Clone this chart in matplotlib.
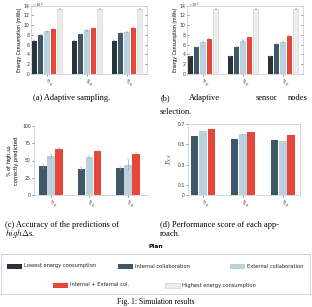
import numpy as np
import matplotlib
matplotlib.use("Agg")
import matplotlib.pyplot as plt
from matplotlib.patches import Rectangle

W, H = 312, 307

# 数据
groups = [r'$\tau_{70}$', r'$\tau_{60}$', r'$\tau_{50}$']
plans = ['Lowest energy consumption', 'Internal collaboration', 'External collaboration',
         'Internal + External col.', 'Highest energy consumption']
colors = ['#27343e', '#3e5868', '#b9d2de', '#e5473a', '#ececec']

# (a) 自适应采样, 单位 x10^6 mWs
energy_a = [[6.8, 8.0, 8.7, 9.2, 13.3],
            [6.8, 8.1, 8.9, 9.3, 13.3],
            [6.8, 8.4, 8.6, 9.5, 13.3]]
# (b) 自适应传感器节点选择
energy_b = [[3.6, 5.5, 6.5, 7.2, 13.3],
            [3.6, 5.6, 6.8, 7.5, 13.3],
            [3.6, 6.1, 6.5, 7.8, 13.3]]
# (c) 预测准确率 (内部, 外部, 内部+外部)
acc_c = [[42, 57, 67],
         [38, 55, 64],
         [39, 44, 60]]
acc_err = [[3, 3, 1],
           [2, 2, 1],
           [3, 8, 1]]
# (d) 性能得分
score_d = [[0.58, 0.63, 0.65],
           [0.55, 0.60, 0.62],
           [0.54, 0.53, 0.59]]

plt.rcParams['font.family'] = ['DejaVu Sans']
plt.rcParams['mathtext.fontset'] = 'cm'
fs_tick = 3.3
fs_cap = 6.0
serif = ['Liberation Serif', 'DejaVu Serif']


def px_axes(fig, left, right, top, bottom):
    return fig.add_axes([left / W, 1 - bottom / H, (right - left) / W, (bottom - top) / H])


def fig_text(fig, x, y, s, **kw):
    fig.text(x / W, 1 - y / H, s, **kw)


def style(ax, box=True):
    for side, sp in ax.spines.items():
        sp.set_color('#c8c8c8')
        sp.set_linewidth(0.5)
    if not box:
        ax.spines['top'].set_visible(False)
        ax.spines['right'].set_visible(False)
    ax.tick_params(labelsize=fs_tick, length=1.2, width=0.4, pad=1, colors='#333333')
    ax.set_xticks(range(len(groups)))
    ax.set_xticklabels(groups, rotation=-40, ha='left', rotation_mode='anchor', fontsize=4.6)


def energy_panel(ax, data):
    data = np.array(data)
    n = data.shape[1]
    w, step = 0.13, 0.16
    x = np.arange(len(groups))
    for i in range(n):
        pos = x + (i - (n - 1) / 2) * step
        ax.bar(pos, data[:, i], w, color=colors[i],
               edgecolor='#d0d0d0' if i == 4 else 'none', linewidth=0.4,
               yerr=0.05, error_kw=dict(elinewidth=0.3, capsize=0.6, capthick=0.3, ecolor='#888888'))
    ax.set_ylim(0, 14)
    ax.set_yticks(range(0, 15, 2))
    ax.set_xlim(-0.4, 2.5)
    style(ax)
    ax.tick_params(axis='y', right=True, direction='in')
    ax.set_ylabel('Energy Consumption (mWs)', fontsize=fs_tick, labelpad=1.5)
    ax.text(0.01, 1.0, r'$\times10^6$', transform=ax.transAxes, fontsize=fs_tick,
            ha='left', va='center', color='#333333')


def three_panel(ax, data, err=None):
    data = np.array(data)
    w, step = 0.19, 0.21
    x = np.arange(len(groups))
    for i in range(3):
        pos = x + (i - 1) * step
        ax.bar(pos, data[:, i], w, color=colors[i + 1],
               yerr=None if err is None else np.array(err)[:, i],
               error_kw=dict(elinewidth=0.4, capsize=0.8, capthick=0.3, ecolor='#999999'))


fig = plt.figure(figsize=(W / 100, H / 100), dpi=100)

ax_a = px_axes(fig, 31, 147, 5.5, 74)
energy_panel(ax_a, energy_a)
ax_b = px_axes(fig, 187, 303, 5.5, 74)
energy_panel(ax_b, energy_b)

ax_c = px_axes(fig, 34, 148, 126, 195)
three_panel(ax_c, acc_c, acc_err)
ax_c.set_ylim(0, 100)
ax_c.set_yticks([0, 25, 50, 75, 100])
ax_c.set_xlim(-0.44, 2.52)
style(ax_c, box=False)
ax_c.set_ylabel('% of high$\\Delta$s\ncorrectly predicted', fontsize=fs_tick + 0.4,
                labelpad=2, linespacing=1.0)

ax_d = px_axes(fig, 188, 300, 124, 195)
three_panel(ax_d, score_d)
ax_d.set_ylim(0, 0.7)
ax_d.set_yticks([0, 0.1, 0.3, 0.5, 0.7])
ax_d.set_yticklabels(['0', '0.1', '0.3', '0.5', '0.7'])
ax_d.set_xlim(-0.375, 2.43)
style(ax_d)
ax_d.set_ylabel(r'$P_{S,S}$', fontsize=fs_tick + 0.6, labelpad=2)

# 子图标题
fig_text(fig, 72, 98, '(a) Adaptive sampling.', family=serif, fontsize=fs_cap, ha='center', va='center')
for s, xx in [('(b)', 161), ('Adaptive', 189), ('sensor', 256), ('nodes', 288)]:
    fig_text(fig, xx, 98, s, family=serif, fontsize=fs_cap, ha='left', va='center')
fig_text(fig, 160, 112, 'selection.', family=serif, fontsize=fs_cap, ha='left', va='center')
fig_text(fig, 5, 225, '(c) Accuracy of the predictions of', family=serif, fontsize=fs_cap,
         ha='left', va='center')
fig_text(fig, 5, 234, r'$high\Delta$' + 's.', family=serif, fontsize=fs_cap, ha='left', va='center')
fig_text(fig, 160, 225, '(d) Performance score of each app-', family=serif, fontsize=fs_cap,
         ha='left', va='center')
fig_text(fig, 160, 234, 'roach.', family=serif, fontsize=fs_cap, ha='left', va='center')

# 图例
fig_text(fig, 156, 246, 'Plan', fontsize=4.2, weight='bold', ha='center', va='center')
ax_l = px_axes(fig, 1, 310, 254, 294)
ax_l.set_xlim(0, 309)
ax_l.set_ylim(40, 0)
ax_l.set_xticks([])
ax_l.set_yticks([])
for sp in ax_l.spines.values():
    sp.set_color('#cccccc')
    sp.set_linewidth(0.6)
leg_pos = [(6, 12), (117, 12), (229, 12), (52, 31), (164, 31)]
for (lx, ly), name, c in zip(leg_pos, plans, colors):
    ax_l.add_patch(Rectangle((lx, ly - 2.5), 15, 5, facecolor=c,
                             edgecolor='#c8c8c8' if c == '#ececec' else 'none', linewidth=0.4))
    ax_l.text(lx + 17, ly, name, fontsize=3.7, ha='left', va='center', color='#222222')

fig_text(fig, 156, 306.5, 'Fig. 1: Simulation results', family=serif, fontsize=fs_cap - 0.5,
         ha='center', va='bottom')

fig.savefig('out.png', dpi=100)
